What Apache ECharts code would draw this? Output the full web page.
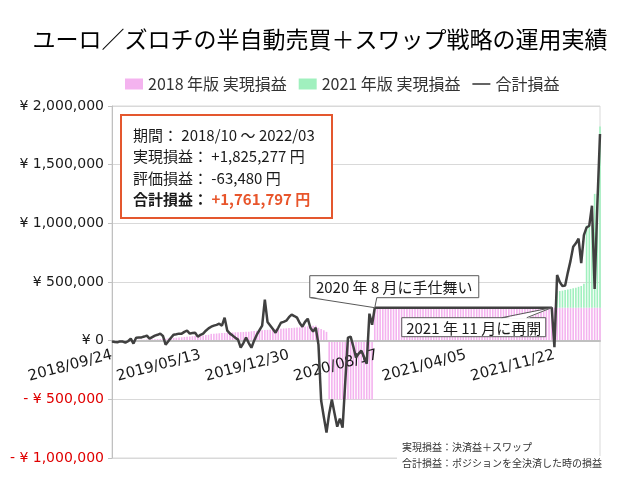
<!DOCTYPE html>
<html><head><meta charset="utf-8">
<script src="https://cdn.jsdelivr.net/npm/echarts/dist/echarts.min.js"></script>
<style>html,body{margin:0;padding:0;background:#fff}#c{width:640px;height:480px}</style>
</head><body><div id="c"></div>
<script>
// ---- data ----
const titleText = 'ユーロ／ズロチの半自動売買＋スワップ戦略の運用実績';
const seriesNames = ['2018 年版 実現損益', '2021 年版 実現損益', '合計損益'];
const startDate = [2018, 9, 24];   // weekly categories
const weekCount = 183;
const yTicks = [-1000000, -500000, 0, 500000, 1000000, 1500000, 2000000];

// 2018 version realized P&L (yen), weekly
const pink = [
  0, 1000, 1000, 2000, 2000, 3000, 4000, 5000,
  5000, 6000, 7000, 8000, 8000, 9000, 10000, 11000, 12000, 13000, 14000, 15000, 16000,
  20000, 21000, 24000, 25000, 28000, 29000, 31000, 34000, 35000, 38000, 39000, 42000, 44000, 45000, 48000, 50000,
  58000, 60000, 61000, 63000, 65000, 66000, 67000, 68000, 70000, 71000, 72000, 73000, 74000, 75000, 76000,
  80000, 82000, 84000, 86000, 88000, 90000, 92000, 94000, 96000, 98000, 100000, 102000, 104000, 105000, 107000, 108000, 110000, 112000, 113000,
  118000, 120000, 122000, 125000, 127000, 128000,
  110000, 100000, 88000, 75000,
  -500000, -500000, -500000, -500000, -500000, -500000, -500000, -500000, -500000, -500000, -500000, -500000, -500000, -500000, -500000, -500000, -500000,
  281000, 281000, 281000, 281000, 281000, 281000, 281000, 281000, 281000, 281000,
  281000, 281000, 281000, 281000, 281000, 281000, 281000, 281000, 281000, 281000,
  281000, 281000, 281000, 281000, 281000, 281000, 281000, 281000, 281000, 281000,
  281000, 281000, 281000, 281000, 281000, 281000, 281000, 281000, 281000, 281000,
  281000, 281000, 281000, 281000, 281000, 281000, 281000, 281000, 281000, 281000,
  281000, 281000, 281000, 281000, 281000, 281000, 281000, 281000, 281000, 281000,
  281000, 281000, 281000, 281000, 281000, 281000, 281000, 281000, 281000, 281000,
  281000, 281000, 281000, 281000, 281000, 281000, 281000, 281000, 281000, 281000,
  281000, 281000, 281000, 281000, 281000
];

// 2021 version realized P&L (yen), starts at week index greenStart
const greenStart = 166;
const greenValues = [140000, 142000, 145000, 150000, 155000, 160000, 165000, 170000, 178000, 185000, 204000,
  700000, 700000, 700000, 970000, 970000, 1544277];

// total P&L (yen), weekly
const total = [
  -8000, -12000, -14000, -6000, -8000, -17000, -5000, 17000, -25000, 25000,
  27000, 28000, 35000, 43000, 17000, 30000, 43000, 50000, 60000, 40000,
  -34000, -5000, 25000, 51000, 55000, 60000, 60000, 75000, 85000, 60000,
  65000, 68000, 34000, 50000, 60000, 85000, 105000, 119000, 128000, 135000,
  145000, 128000, 196000, 85000, 60000, 43000, 25000, 9000, -60000, -20000,
  26000, -20000, -60000, 0, 51000, 90000, 128000, 350000, 160000, 130000,
  100000, 68000, 110000, 153000, 160000, 170000, 200000, 222000, 210000, 196000,
  150000, 119000, 160000, 187000, 110000, 77000, 111000, -34000, -510000, -650000,
  -784000, -620000, -502000, -620000, -733000, -664000, -741000, -350000, 26000, 34000,
  -50000, -145000, -110000, -85000, -140000, -196000, 230000, 136000, 281000, 281000,
  281000, 281000, 281000, 281000, 281000, 281000, 281000, 281000, 281000, 281000,
  281000, 281000, 281000, 281000, 281000, 281000, 281000, 281000, 281000, 281000,
  281000, 281000, 281000, 281000, 281000, 281000, 281000, 281000, 281000, 281000,
  281000, 281000, 281000, 281000, 281000, 281000, 281000, 281000, 281000, 281000,
  281000, 281000, 281000, 281000, 281000, 281000, 281000, 281000, 281000, 281000,
  281000, 281000, 281000, 281000, 281000, 281000, 281000, 281000, 281000, 281000,
  281000, 281000, 281000, 281000, 281000,
  -55000, 560000, 500000, 465000, 470000, 580000, 680000, 800000, 830000, 870000,
  660000, 900000, 965000, 980000, 1150000, 440000, 1150000, 1761797
];

const periodText = '2018/10 ～ 2022/03';
const note1 = '実現損益：決済益＋スワップ';
const note2 = '合計損益：ポジションを全決済した時の損益';
const callout1 = {text: '2020 年 8 月に手仕舞い', index: 98};
const callout2 = {text: '2021 年 11 月に再開', index: 164};

// ---- build ----
const categories = [];
(function () {
  const d0 = Date.UTC(startDate[0], startDate[1] - 1, startDate[2]);
  for (let i = 0; i < weekCount; i++) {
    const d = new Date(d0 + i * 7 * 86400000);
    categories.push(d.getUTCFullYear() + '/' + String(d.getUTCMonth() + 1).padStart(2, '0') + '/' + String(d.getUTCDate()).padStart(2, '0'));
  }
})();
const green = categories.map((c, i) => i < greenStart ? null : greenValues[i - greenStart]);

const fmt = v => Math.abs(v).toLocaleString('en-US');
const CJK = '"Noto Sans CJK JP", "Noto Sans", sans-serif';
const LAT = '"DejaVu Sans", Verdana, sans-serif';

const GRID = {left: 112, right: 40, top: 106, bottom: 22};
const yMin = yTicks[0], yMax = yTicks[yTicks.length - 1];
const gridH = 480 - GRID.top - GRID.bottom;
const zeroOffset = -gridH * (0 - yMin) / (yMax - yMin);   // move category axis up to value 0

const chart = echarts.init(document.getElementById('c'), null, {renderer: 'canvas', width: 640, height: 480});
chart.setOption({
  animation: false,
  backgroundColor: '#fff',
  title: {
    text: titleText, left: 'center', top: 23,
    textStyle: {fontSize: 23, fontWeight: 'normal', color: '#000', fontFamily: CJK}
  },
  legend: {
    left: 120, top: 71, itemGap: 12, itemWidth: 18, itemHeight: 11, symbolKeepAspect: true,
    textStyle: {fontSize: 16, color: '#333', fontFamily: CJK},
    data: [
      {name: seriesNames[0], icon: 'rect'},
      {name: seriesNames[1], icon: 'rect'},
      {name: seriesNames[2], icon: 'path://M0 0 H20 V1.8 H0 Z'}
    ]
  },
  grid: Object.assign({show: true, borderColor: '#d9d9d9', borderWidth: 1,
    containLabel: false, outerBoundsMode: 'none'}, GRID),
  xAxis: {
    type: 'category', data: categories, boundaryGap: false, position: 'bottom', offset: zeroOffset, z: 3,
    axisLine: {onZero: false, lineStyle: {color: '#c0c0c0', width: 2}},
    axisTick: {show: false},
    splitLine: {show: false},
    axisLabel: {interval: 32, rotate: 15, margin: 14, fontSize: 15, fontFamily: LAT, color: '#1a1a1a'}
  },
  yAxis: {
    type: 'value', min: yMin, max: yMax, interval: 500000,
    axisLine: {show: true, lineStyle: {color: '#c0c0c0'}},
    axisTick: {show: true, length: 4, lineStyle: {color: '#c0c0c0'}},
    splitLine: {lineStyle: {color: '#d9d9d9'}},
    axisLabel: {
      margin: 8, fontSize: 14, fontFamily: LAT, color: '#1a1a1a',
      formatter: v => v < 0 ? '{n|- ¥ ' + fmt(v) + '}' : '¥ ' + fmt(v),
      rich: {n: {color: '#e00000', fontSize: 14, fontFamily: LAT}}
    }
  },
  series: [
    {name: seriesNames[0], type: 'bar', stack: 'r', data: pink, barCategoryGap: '40%',
      itemStyle: {color: '#f4b3ef'}, z: 2},
    {name: seriesNames[1], type: 'bar', stack: 'r', data: green, barCategoryGap: '40%',
      itemStyle: {color: '#a0f0be'}, z: 2},
    {name: seriesNames[2], type: 'line', data: total, symbol: 'none', z: 4,
      lineStyle: {color: '#404040', width: 2.5}, itemStyle: {color: '#404040'}}
  ]
});

// ---- annotations ----
const realized = pink[pink.length - 1] + greenValues[greenValues.length - 1];
const totalLast = total[total.length - 1];
const unrealized = totalLast - realized;
const sign = v => (v >= 0 ? '+' : '-') + fmt(v);

const g = [];
// info box
g.push({type: 'rect', shape: {x: 121, y: 115, width: 211, height: 103}, style: {fill: '#fff', stroke: '#e4572e', lineWidth: 2}, z: 100});
const infoLines = [
  '期間： ' + periodText,
  '実現損益： ' + sign(realized) + ' 円',
  '評価損益： ' + sign(unrealized) + ' 円'
];
infoLines.forEach((t, k) => g.push({type: 'text', x: 133, y: 135 + k * 21.5, z: 101,
  style: {text: t, fontSize: 15, fontFamily: CJK, fill: '#1a1a1a', verticalAlign: 'middle'}}));
g.push({type: 'text', x: 133, y: 135 + 3 * 21.5, z: 101,
  style: {text: '{b|合計損益： }{r|' + sign(totalLast) + ' 円}', verticalAlign: 'middle', fontSize: 15, fontFamily: CJK,
    rich: {b: {fontSize: 15, fontWeight: 'bold', fill: '#1a1a1a', fontFamily: CJK},
           r: {fontSize: 15, fontWeight: 'bold', fill: '#e8552b', fontFamily: CJK}}}});

function addCallout(tip, box, baseA, baseB, baseY, text) {
  g.push({type: 'rect', shape: {x: box.x, y: box.y, width: box.w, height: box.h}, style: {fill: '#fff', stroke: '#595959', lineWidth: 1}, z: 110});
  const inset = baseY === box.y ? 1 : -1;
  g.push({type: 'polygon', shape: {points: [[baseA, baseY + inset], tip, [baseB, baseY + inset]]}, style: {fill: '#fff'}, z: 111});
  g.push({type: 'polyline', shape: {points: [[baseA, baseY], tip, [baseB, baseY]]}, style: {stroke: '#595959', lineWidth: 1, fill: null}, z: 112});
  g.push({type: 'text', x: box.x + box.w / 2, y: box.y + box.h / 2 + 1, z: 113,
    style: {text: text, fontSize: 15, fontFamily: CJK, fill: '#1a1a1a', align: 'center', verticalAlign: 'middle'}});
}
const t1 = chart.convertToPixel({gridIndex: 0}, [categories[callout1.index], total[callout1.index]]);
const b1 = {x: t1[0] - 65, y: t1[1] - 32, w: 169, h: 22};
addCallout([t1[0], t1[1]], b1, b1.x + 1, t1[0] + 2, b1.y + b1.h, callout1.text);
const t2 = chart.convertToPixel({gridIndex: 0}, [categories[callout2.index], total[callout2.index]]);
const b2 = {x: t2[0] - 150, y: t2[1] + 10, w: 144, h: 19};
addCallout([t2[0], t2[1]], b2, b2.x + 100, b2.x + 125, b2.y, callout2.text);

// notes
g.push({type: 'rect', shape: {x: 397, y: 456, width: 243, height: 24}, style: {fill: '#fff'}, z: 100});
g.push({type: 'text', x: 402, y: 447, z: 101, style: {text: note1, fontSize: 10, fontFamily: CJK, fill: '#333', verticalAlign: 'middle'}});
g.push({type: 'text', x: 402, y: 463, z: 101, style: {text: note2, fontSize: 10, fontFamily: CJK, fill: '#333', verticalAlign: 'middle'}});

chart.setOption({graphic: g});
</script>
</body></html>
